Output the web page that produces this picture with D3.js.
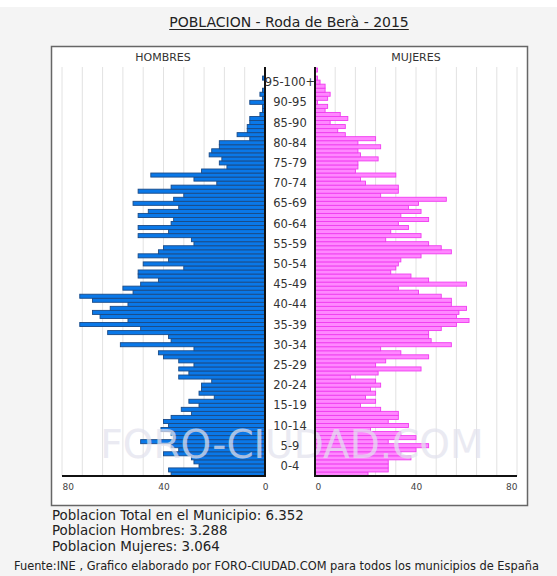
<!DOCTYPE html>
<meta charset="utf-8">
<html>
<head>
<title>Poblacion Roda de Bera 2015</title>
<script src="https://d3js.org/d3.v7.min.js"></script>
<style>
  body { margin: 0; background: #f4f4f4; }
  svg { display: block; font-family: "DejaVu Sans", Verdana, sans-serif; }
</style>
</head>
<body>
<svg width="557" height="576"></svg>
<script>
// ages 0..100 (last one is 100+)
var ages = d3.range(0, 101);

// hombres, edad 0 -> 100
var hombres = [37, 38, 26, 28, 29, 40, 34, 37, 49, 36,
               37, 41, 38, 40, 37, 29, 33, 26, 30, 20,
               26, 25, 25, 21, 34, 30, 34, 28, 34, 40,
               42, 28, 57, 37, 38, 62, 49, 73, 54, 65,
               68, 61, 54, 68, 73, 52, 56, 49, 42, 50,
               50, 32, 48, 38, 50, 42, 40, 28, 29, 50,
               38, 50, 37, 36, 50, 46, 34, 52, 36, 32,
               50, 37, 19, 28, 45, 25, 15, 18, 17, 22,
               21, 18, 18, 6, 11, 7, 7, 6, 6, 2,
               1, 1, 6, 1, 2, 1, 0, 0, 1, 0, 0];

// mujeres, edad 0 -> 100
var mujeres = [21, 29, 29, 29, 38, 34, 40, 45, 29, 40,
               34, 22, 37, 29, 33, 33, 26, 18, 24, 20,
               24, 22, 26, 24, 14, 25, 42, 24, 28, 45,
               34, 26, 54, 46, 45, 45, 50, 56, 61, 56,
               57, 60, 54, 54, 50, 41, 33, 60, 45, 38,
               30, 32, 33, 34, 42, 54, 50, 45, 28, 42,
               30, 37, 33, 45, 34, 42, 37, 41, 52, 26,
               33, 33, 20, 18, 32, 16, 17, 17, 25, 18,
               17, 26, 17, 24, 12, 9, 12, 6, 13, 10,
               4, 5, 1, 5, 6, 4, 4, 2, 1, 0, 1];

var groupLabels = ["0-4", "5-9", "10-14", "15-19", "20-24", "25-29", "30-34",
                   "35-39", "40-44", "45-49", "50-54", "55-59", "60-64", "65-69",
                   "70-74", "75-79", "80-84", "85-90", "90-95", "95-100+"];

var gridValues = [8, 16, 24, 32, 40, 48, 56, 64, 72, 80];
var axisTicks = [0, 40, 80];

var infoLines = ["Poblacion Total en el Municipio: 6.352",
                 "Poblacion Hombres: 3.288",
                 "Poblacion Mujeres: 3.064"];

var svg = d3.select("svg");

svg.append("rect").attr("width", 557).attr("height", 576).attr("fill", "#f4f4f4");
svg.append("rect").attr("width", 557).attr("height", 7).attr("fill", "#fff");

// title
var title = svg.append("text")
    .attr("x", 289).attr("y", 27)
    .attr("text-anchor", "middle")
    .attr("font-size", 14).attr("fill", "#222")
    .text("POBLACION - Roda de Berà - 2015");
var tb = title.node().getBBox();
svg.append("line")
    .attr("x1", tb.x).attr("x2", tb.x + tb.width)
    .attr("y1", 29.5).attr("y2", 29.5)
    .attr("stroke", "#222").attr("stroke-width", 1.2);

// chart box
svg.append("rect")
    .attr("x", 51.5).attr("y", 46.5).attr("width", 476).attr("height", 459)
    .attr("fill", "#fff").attr("stroke", "#666").attr("stroke-width", 1.5);

var y = d3.scaleBand().domain(ages).range([476, 68]).padding(0);
var xL = d3.scaleLinear().domain([0, 80]).range([265, 62]);
var xR = d3.scaleLinear().domain([0, 80]).range([315, 517]);

svg.append("text").attr("x", 163).attr("y", 60.5).attr("text-anchor", "middle")
    .attr("font-size", 11).attr("fill", "#333").text("HOMBRES");
svg.append("text").attr("x", 416).attr("y", 60.5).attr("text-anchor", "middle")
    .attr("font-size", 11).attr("fill", "#333").text("MUJERES");

// grid
[xL, xR].forEach(function(sc) {
    svg.append("g").selectAll("line").data(gridValues).join("line")
        .attr("x1", function(d) { return sc(d); })
        .attr("x2", function(d) { return sc(d); })
        .attr("y1", 67).attr("y2", 476)
        .attr("stroke", "#e2e2e2").attr("stroke-width", 1);
});

// bars
svg.append("g").selectAll("rect").data(ages).join("rect")
    .attr("x", function(d) { return xL(hombres[d]); })
    .attr("y", function(d) { return y(d); })
    .attr("width", function(d) { return xL(0) - xL(hombres[d]); })
    .attr("height", y.bandwidth())
    .attr("fill", "#0a78e8").attr("stroke", "#1a4a86").attr("stroke-width", 0.9);

svg.append("g").selectAll("rect").data(ages).join("rect")
    .attr("x", xR(0))
    .attr("y", function(d) { return y(d); })
    .attr("width", function(d) { return xR(mujeres[d]) - xR(0); })
    .attr("height", y.bandwidth())
    .attr("fill", "#ff88ff").attr("stroke", "#f03cf0").attr("stroke-width", 0.9);

// watermark
svg.append("text")
    .attr("x", 292).attr("y", 458).attr("text-anchor", "middle")
    .attr("font-size", 39).attr("fill", "#e2e2ee").attr("opacity", 0.72)
    .text("FORO-CIUDAD.COM");

// zero lines and base lines
svg.append("line").attr("x1", xL(0)).attr("x2", xL(0)).attr("y1", 67).attr("y2", 477)
    .attr("stroke", "#111").attr("stroke-width", 2);
svg.append("line").attr("x1", xR(0)).attr("x2", xR(0)).attr("y1", 67).attr("y2", 477)
    .attr("stroke", "#111").attr("stroke-width", 2);
svg.append("line").attr("x1", xL(80)).attr("x2", xL(0)).attr("y1", 476).attr("y2", 476)
    .attr("stroke", "#111").attr("stroke-width", 2);
svg.append("line").attr("x1", xR(0)).attr("x2", xR(80)).attr("y1", 476).attr("y2", 476)
    .attr("stroke", "#111").attr("stroke-width", 2);

// x axes
var axL = svg.append("g").attr("transform", "translate(0,481)")
    .call(d3.axisBottom(xL).tickValues(axisTicks).tickSize(0).tickPadding(3));
var axR = svg.append("g").attr("transform", "translate(0,481)")
    .call(d3.axisBottom(xR).tickValues(axisTicks).tickSize(0).tickPadding(3));
[axL, axR].forEach(function(ax) {
    ax.select(".domain").remove();
    ax.selectAll("text").attr("font-size", 9).attr("fill", "#444")
        .attr("font-family", "DejaVu Sans, Verdana, sans-serif");
});
axL.selectAll("text").attr("text-anchor", function(d) { return d === 80 ? "start" : d === 0 ? "end" : "middle"; })
    .attr("dx", function(d) { return d === 0 ? 3 : 0; });
axR.selectAll("text").attr("text-anchor", function(d) { return d === 80 ? "end" : d === 0 ? "start" : "middle"; });

// age group labels
svg.append("g").selectAll("text").data(groupLabels).join("text")
    .attr("x", 290)
    .attr("y", function(d, i) { return y(i * 5 + 2) + y.bandwidth() / 2; })
    .attr("dy", "0.36em")
    .attr("text-anchor", "middle")
    .attr("font-size", 11.5).attr("fill", "#333")
    .text(function(d) { return d; });

// totals
svg.append("g").selectAll("text").data(infoLines).join("text")
    .attr("x", 52)
    .attr("y", function(d, i) { return 520 + i * 15.4; })
    .attr("font-size", 13.4).attr("fill", "#222")
    .text(function(d) { return d; });

svg.append("text")
    .attr("x", 14).attr("y", 570)
    .attr("font-size", 11.4).attr("fill", "#222")
    .text("Fuente:INE , Grafico elaborado por FORO-CIUDAD.COM para todos los municipios de España");
</script>
</body>
</html>
